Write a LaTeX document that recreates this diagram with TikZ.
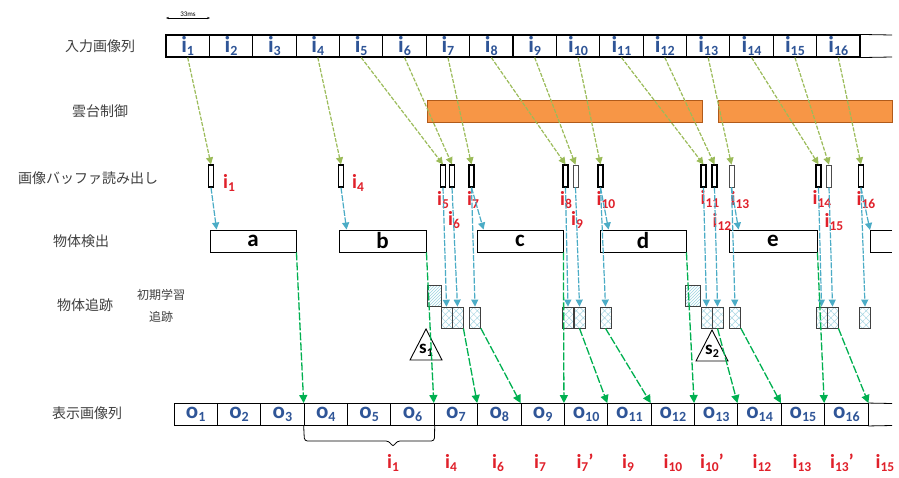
\documentclass[tikz,border=0pt]{standalone}
\usepackage{fontspec}
\setmainfont{Carlito}
\newfontfamily\jpfont{Noto Sans CJK JP}
\usetikzlibrary{arrows.meta,patterns,patterns.meta}
\definecolor{ibl}{HTML}{2F5597}
\definecolor{ired}{HTML}{E0202A}
\definecolor{lgr}{HTML}{9BBB59}
\definecolor{dgr}{HTML}{00B050}
\definecolor{blu}{HTML}{4BACC6}
\definecolor{org}{HTML}{F79646}
\definecolor{orgd}{HTML}{B05A1A}
\definecolor{jgray}{HTML}{404040}
\newcommand\lab[2]{#1\raisebox{-0.3ex}{\fontsize{14}{14}\selectfont #2}}
\newcommand\rlb[2]{#1\raisebox{-0.3ex}{\fontsize{13.5}{13.5}\selectfont #2}}
\newcommand\slb[2]{#1\raisebox{-0.3ex}{\fontsize{12}{12}\selectfont #2}}
\tikzset{
 incell/.style={draw, line width=1.1pt, minimum width=43.375pt, minimum height=22pt, inner sep=0pt, text=ibl, font=\bfseries\fontsize{23}{23}\selectfont},
 outcell/.style={incell, line width=0.9pt},
 rd/.style={draw, line width=1.2pt, fill=white, minimum width=5pt, minimum height=22pt, inner sep=0pt},
 rdthin/.style={rd, line width=0.7pt, draw=black!70},
 rlab/.style={text=ired, font=\bfseries\fontsize{20}{20}\selectfont, inner sep=0pt},
 det/.style={draw, line width=0.9pt, minimum height=22pt, inner sep=0pt, font=\bfseries\fontsize{23}{23}\selectfont},
 trk/.style={draw=black!75, line width=0.8pt, minimum width=11pt, minimum height=21pt, inner sep=0pt, pattern={Hatch[angle=45,distance=5pt,line width=0.5pt]}, pattern color=blu!50},
 ini/.style={draw=black!75, line width=0.8pt, minimum width=14pt, minimum height=21pt, inner sep=0pt, pattern=north east lines, pattern color=blu!55},
 obar/.style={draw=orgd, fill=org, line width=0.8pt, minimum height=22pt, inner sep=0pt},
 garr/.style={draw=lgr, line width=1.2pt, dash pattern=on 4pt off 1.5pt, -{Triangle[length=7pt,width=7pt]}},
 barr/.style={draw=blu, line width=1.2pt, dash pattern=on 6pt off 1.5pt, -{Triangle[length=7pt,width=7pt]}},
 dgarr/.style={draw=dgr, line width=1.3pt, dash pattern=on 8pt off 2pt, -{Triangle[length=8pt,width=8pt]}},
 jlab/.style={text=jgray, font=\jpfont\fontsize{14}{14}\selectfont, inner sep=0pt},
 tri/.style={draw, line width=0.9pt, fill=white},
 slab/.style={font=\bfseries\fontsize{19}{19}\selectfont, inner sep=0pt},
}
\begin{document}
\begin{tikzpicture}[x=1pt,y=-1pt]
\fill[white] (0,0) rectangle (899,477);
\useasboundingbox (0,0) rectangle (899,477);

% left labels
\node[jlab] (L1) at (100,46) {入力画像列};
\node[jlab] (L2) at (100,111) {雲台制御};
\node[jlab] (L3) at (88,178) {画像バッファ読み出し};
\node[jlab] (L4) at (81,241) {物体検出};
\node[jlab] (L5) at (85,305) {物体追跡};
\node[jlab, font=\jpfont\fontsize{12}{12}\selectfont] (L6) at (161,295) {初期学習};
\node[jlab, font=\jpfont\fontsize{12}{12}\selectfont] (L7) at (161,317) {追跡};
\node[jlab] (L8) at (87,413) {表示画像列};

% 33ms
\coordinate (ms1) at (166,18);
\coordinate (ms2) at (210,18);
\draw[{Stealth[length=3pt]}-{Stealth[length=3pt]}, line width=0.5pt] (ms1) -- (ms2)
  node[midway, above=1pt, inner sep=0pt, font=\fontsize{7}{7}\selectfont] (ms) {33ms};

% input row
\foreach \k in {1,...,16} {
  \node[incell] (in\k) at ({166+(\k-0.5)*43.375},46) {\lab{i}{\k}};
}
\coordinate (inE1) at (892,35);
\coordinate (inE2) at (892,57);
\draw[line width=0.8pt] (in16.north east) -- (inE1);
\draw[line width=0.8pt] (in16.south east) -- (inE2);

% pan-tilt bars
\node[obar, minimum width=275pt] (pt1) at (564.5,111) {};
\node[obar, minimum width=174pt] (pt2) at (805,111) {};

% readout rectangles
\node[rd] (rd1) at (211,176) {};
\node[rd] (rd4) at (341,176) {};
\node[rd] (rd5) at (443,176) {};
\node[rd] (rd6) at (452,176) {};
\node[rd] (rd7) at (471.5,176) {};
\node[rd] (rd8) at (565.5,176) {};
\node[rdthin] (rd9) at (575.5,176) {};
\node[rd] (rd10) at (600.5,176) {};
\node[rd] (rd11) at (703.5,176) {};
\node[rd] (rd12) at (714.5,176) {};
\node[rdthin] (rd13) at (731.5,176) {};
\node[rd] (rd14) at (818.5,176) {};
\node[rdthin] (rd15) at (829,176) {};
\node[rd] (rd16) at (861,176) {};

% light green arrows input -> readout
\foreach \k in {1,4,5,6,7,8,9,10,11,12,13,14,15,16} {
  \draw[garr] (in\k.south) -- (rd\k.north);
}

% detection boxes
\node[det, minimum width=86pt] (a) at (253,241) {a};
\node[det, minimum width=87pt] (b) at (382.5,241) {b};
\node[det, minimum width=86pt] (c) at (520,241) {c};
\node[det, minimum width=86pt] (d) at (643,241) {d};
\node[det, minimum width=88pt] (e) at (773,241) {e};
\coordinate (f) at (870,230);
\coordinate (fb) at (870,252);
\draw[line width=0.9pt] (892,230) -- (f) -- (fb) -- (892,252);

% tracking boxes
\node[ini] (ini1) at (434,295.5) {};
\node[ini, minimum width=15pt] (ini2) at (693,295.5) {};
\node[trk] (tr5) at (446.5,317.5) {};
\node[trk] (tr6) at (457.5,317.5) {};
\node[trk] (tr7) at (475,317.5) {};
\node[trk] (tr8) at (568,317.5) {};
\node[trk] (tr9) at (579.5,317.5) {};
\node[trk] (tr10) at (605.5,317.5) {};
\node[trk] (tr11) at (706.5,317.5) {};
\node[trk] (tr12) at (717.5,317.5) {};
\node[trk] (tr13) at (735,317.5) {};
\node[trk] (tr14) at (821.5,317.5) {};
\node[trk] (tr15) at (832.5,317.5) {};
\node[trk] (tr16) at (865,317.5) {};

% red labels at readouts
\node[rlab] (r1) at (229,183) {\rlb{i}{1}};
\node[rlab] (r4) at (358,183) {\rlb{i}{4}};
\node[rlab] (r5) at (443,200) {\rlb{i}{5}};
\node[rlab] (r6) at (454,220) {\rlb{i}{6}};
\node[rlab] (r7) at (473,200) {\rlb{i}{7}};
\node[rlab] (r8) at (566,200) {\rlb{i}{8}};
\node[rlab] (r9) at (577,220) {\rlb{i}{9}};
\node[rlab] (r10) at (606,200) {\rlb{i}{10}};
\node[rlab] (r11) at (710,199) {\rlb{i}{11}};
\node[rlab] (r12) at (722,222) {\rlb{i}{12}};
\node[rlab] (r13) at (740,200) {\rlb{i}{13}};
\node[rlab] (r14) at (822,199) {\rlb{i}{14}};
\node[rlab] (r15) at (834,222) {\rlb{i}{15}};
\node[rlab] (r16) at (866,200) {\rlb{i}{16}};

% blue arrows readout -> detection
\draw[barr] (rd1.south) -- ([xshift=7pt]a.north west);
\draw[barr] (rd4.south) -- ([xshift=8pt]b.north west);
\draw[barr] (rd7.south) -- ([xshift=7pt]c.north west);
\draw[barr] (rd10.south) -- ([xshift=9pt]d.north west);
\draw[barr] (rd13.south) -- ([xshift=10pt]e.north west);
\draw[barr] (rd16.south) -- (f);

% blue arrows readout -> tracking
\foreach \k in {5,6,7,8,9,10,11,12,13,14,15,16} {
  \draw[barr] (rd\k.south) -- (tr\k.north);
}

% triangles
\draw[tri] (426,329) -- (442,360) -- (410,360) -- cycle;
\node[slab] (s1) at (426,350) {\slb{s}{1}};
\draw[tri] (712,330) -- (728,361) -- (696,361) -- cycle;
\node[slab] (s2) at (712,351) {\slb{s}{2}};

% output row
\foreach \k in {1,...,16} {
  \node[outcell] (out\k) at ({174+(\k-0.5)*43.375},414.5) {\lab{o}{\k}};
}
\coordinate (outE1) at (892,403.5);
\coordinate (outE2) at (892,425.5);
\draw[line width=0.8pt] (out16.north east) -- (outE1);
\draw[line width=0.8pt] (out16.south east) -- (outE2);

% dark green arrows to output
\draw[dgarr] (a.south east) -- (out4.north west);
\draw[dgarr] (b.south east) -- (out7.north west);
\draw[dgarr] (tr6.south east) -- (out8.north west);
\draw[dgarr] (tr7.south east) -- (out9.north west);
\draw[dgarr] (c.south east) -- (out10.north west);
\draw[dgarr] (tr9.south) -- (out11.north west);
\draw[dgarr] (tr10.south) -- (out12.north west);
\draw[dgarr] (d.south east) -- (out13.north west);
\draw[dgarr] (tr12.south) -- (out14.north west);
\draw[dgarr] (tr13.south east) -- (out15.north west);
\draw[dgarr] (e.south east) -- (out16.north west);
\draw[dgarr] (tr15.south east) -- (out16.north east);

% brace
\draw[line width=0.8pt, rounded corners=3pt] (out4.south west) -- (304.4,441) -- (389,441) -- (393,447) -- (397,441) -- (434.4,441) -- (out6.south east);

% bottom red labels
\node[rlab] (b1) at (393,463) {\rlb{i}{1}};
\node[rlab] (b4) at (451,463) {\rlb{i}{4}};
\node[rlab] (b6) at (498,463) {\rlb{i}{6}};
\node[rlab] (b7) at (540,463) {\rlb{i}{7}};
\node[rlab] (b7p) at (585,463) {\rlb{i}{7}'};
\node[rlab] (b9) at (628,463) {\rlb{i}{9}};
\node[rlab] (b10) at (673,463) {\rlb{i}{10}};
\node[rlab] (b10p) at (712,463) {\rlb{i}{10}'};
\node[rlab] (b12) at (762,463) {\rlb{i}{12}};
\node[rlab] (b13) at (802,463) {\rlb{i}{13}};
\node[rlab] (b13p) at (842,463) {\rlb{i}{13}'};
\node[rlab] (b15) at (885,463) {\rlb{i}{15}};
\end{tikzpicture}
\end{document}
